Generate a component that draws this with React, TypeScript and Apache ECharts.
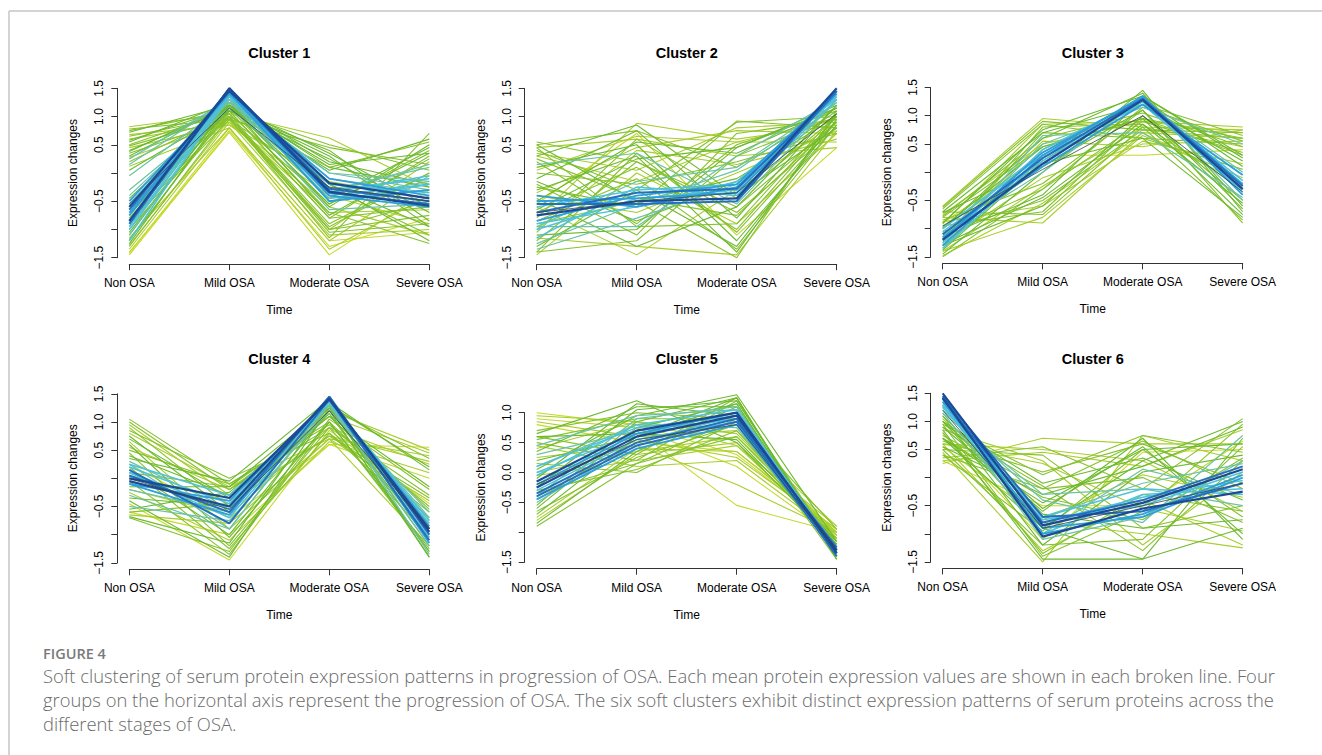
import React, { useEffect, useRef } from "react";
import * as echarts from "echarts";

// ---------------- DATA ----------------
const stages = ["Non OSA", "Mild OSA", "Moderate OSA", "Severe OSA"];
const clusterTitles = ["Cluster 1", "Cluster 2", "Cluster 3", "Cluster 4", "Cluster 5", "Cluster 6"];

// each row: [Non OSA, Mild OSA, Moderate OSA, Severe OSA, membership level 0..9]
const cluster1: number[][] = [
  [0.82, 1.05, 0.62, -0.25, 1], [0.78, 0.95, 0.45, 0.15, 2], [0.72, 1.2, 0.35, -0.6, 3],
  [0.65, 1.0, 0.1, 0.55, 2], [0.6, 0.9, -0.6, -1.1, 1], [0.55, 1.25, 0.2, -0.2, 3],
  [0.5, 1.1, -0.8, 0.3, 2], [0.45, 0.85, -0.4, -0.9, 1], [0.4, 1.15, 0.05, 0.6, 3],
  [0.35, 0.95, -1.0, -0.5, 2], [0.3, 1.2, -0.2, -1.2, 3], [0.2, 1.05, -0.55, 0.4, 2],
  [0.12, 0.8, -1.2, -0.05, 1], [0.05, 1.1, 0.25, -0.7, 3], [-0.05, 1.25, -0.35, 0.15, 4],
  [-1.45, 0.75, -1.3, -0.8, 0], [-1.4, 0.72, -1.45, -0.3, 0], [-1.35, 0.9, -1.1, -1.0, 1],
  [-1.3, 1.0, -0.9, 0.0, 2], [-1.2, 1.15, -0.7, -1.25, 2], [-1.15, 0.8, -1.35, -0.4, 1],
  [-1.1, 1.25, -0.6, 0.5, 3], [-1.0, 1.05, -1.0, -0.75, 2], [-0.95, 1.3, -0.45, -0.15, 4],
  [-0.9, 0.95, -0.25, -1.1, 2], [-0.8, 1.2, -0.75, 0.25, 3], [-0.7, 1.3, -0.65, -0.55, 4],
  [-0.65, 1.1, 0.4, -0.85, 3], [-0.6, 1.0, -1.15, 0.7, 2], [-0.4, 1.25, 0.0, -0.3, 4],
  [-0.3, 1.15, -0.3, 0.1, 4], [0.25, 1.3, -0.1, -0.35, 4], [-1.25, 1.2, -0.2, -0.95, 3],
  [0.75, 1.1, 0.5, 0.05, 2], [0.68, 0.85, -0.15, -0.45, 1], [0.58, 1.15, 0.3, -0.95, 3],
  [0.48, 0.98, -0.95, 0.0, 2], [0.38, 1.2, 0.15, 0.35, 3], [0.28, 0.9, -0.7, -0.65, 1],
  [0.15, 1.3, 0.0, -0.15, 4], [-1.42, 0.8, -1.2, -1.05, 0], [-1.28, 0.95, -1.0, 0.2, 1],
  [-1.18, 1.1, -0.8, -0.6, 2], [-1.05, 1.2, -0.55, 0.35, 3], [-0.85, 1.0, -1.05, -0.9, 2],
  [-0.75, 1.25, 0.1, -0.25, 3], [-0.45, 1.2, -0.45, 0.45, 3], [-1.1, 1.35, -0.45, -0.3, 4],
  [-1.0, 1.35, -0.35, -0.05, 5], [-0.85, 1.4, -0.5, -0.2, 5], [-0.55, 1.35, -0.2, -0.35, 5],
  [-0.95, 1.4, -0.3, -0.1, 5], [-1.2, 1.38, -0.4, -0.2, 5], [-0.7, 1.42, -0.5, -0.3, 6],
  [-0.75, 1.45, -0.4, -0.6, 6], [-0.5, 1.4, -0.1, -0.4, 6], [-0.9, 1.5, -0.28, -0.5, 7],
  [-0.65, 1.48, -0.35, -0.55, 7], [-0.85, 1.5, -0.33, -0.58, 8], [-0.6, 1.45, -0.18, -0.45, 8],
  [-0.55, 1.15, -0.25, -0.5, 9],
];

const cluster2: number[][] = [
  [0.55, 0.2, -0.6, 0.9, 2], [0.45, 0.6, 0.3, 0.45, 1], [0.4, -0.3, 0.9, 1.0, 2],
  [0.3, 0.85, -0.4, 0.8, 3], [0.2, -0.9, 0.5, 1.1, 2], [0.1, 0.5, -1.2, 0.85, 3],
  [0.0, -0.2, 0.2, 0.7, 2], [-0.1, 0.75, -0.8, 1.2, 3], [-0.2, -1.1, 0.7, 0.95, 2],
  [-0.3, 0.3, -1.4, 1.05, 3], [-0.4, -0.7, 0.0, 0.75, 1], [-0.5, 0.55, 0.35, 1.15, 3],
  [-0.6, -1.45, -0.3, 0.9, 1], [-0.7, 0.1, -1.0, 1.0, 2], [-0.8, 0.88, 0.6, 0.85, 1],
  [-0.9, -0.5, -1.5, 1.1, 2], [-1.0, 0.4, 0.15, 0.6, 1], [-1.1, -1.0, 0.45, 1.2, 3],
  [-1.2, 0.2, -0.7, 0.8, 2], [-1.3, -0.3, -1.3, 0.95, 3], [-1.4, -1.2, 0.3, 1.0, 2],
  [-1.45, 0.0, -0.9, 0.7, 1], [0.35, 0.05, 0.8, 0.9, 1], [-0.25, -0.6, 0.92, 0.8, 2],
  [0.5, -0.5, -0.1, 1.0, 3], [-0.55, 0.7, -1.1, 0.45, 0], [-1.35, -0.8, -0.2, 1.25, 4],
  [0.15, 0.35, -0.55, 1.3, 4], [-0.95, -0.15, 0.1, 1.3, 4], [-1.15, -1.3, -1.45, 0.75, 1],
  [0.45, -0.95, -0.9, 1.05, 2], [0.5, 0.75, 0.1, 1.15, 2], [0.25, -0.45, -0.75, 0.9, 2],
  [0.05, 0.65, 0.55, 0.95, 1], [-0.15, -0.85, -0.15, 1.1, 3], [-0.35, 0.45, 0.75, 0.7, 1],
  [-0.45, -1.3, -0.6, 1.2, 3], [-0.65, 0.25, 0.45, 1.15, 3], [-0.85, -0.1, -1.35, 0.85, 2],
  [-1.05, 0.6, -0.45, 1.0, 2], [-1.25, -0.55, 0.05, 1.25, 4], [-1.4, 0.35, -1.05, 0.9, 2],
  [-0.95, -0.95, 0.3, 1.3, 4], [0.3, -0.15, 0.55, 0.55, 1],
  [-1.15, -0.25, -0.4, 1.3, 5], [-0.9, -0.6, -0.15, 1.35, 5], [-0.6, -0.3, -0.2, 1.35, 5],
  [-1.0, -0.45, -0.3, 1.35, 5], [-0.4, -0.6, -0.25, 1.4, 6], [-0.5, -0.45, -0.35, 1.4, 6],
  [-0.85, -0.4, -0.2, 1.45, 6], [-0.7, -0.35, -0.28, 1.45, 7], [-0.55, -0.55, -0.5, 1.45, 7],
  [-0.75, -0.5, -0.45, 1.5, 8], [-0.7, -0.5, -0.35, 1.05, 9],
];

const cluster3: number[][] = [
  [-0.6, 0.95, 0.8, 0.75, 1], [-0.65, 0.85, 0.6, 0.5, 2], [-0.7, 0.7, 1.2, 0.2, 3],
  [-0.75, 0.5, 0.9, 0.8, 1], [-0.8, -0.9, 0.7, 0.6, 1], [-0.85, -0.2, 1.1, -0.9, 2],
  [-0.9, 0.3, 0.3, 0.4, 0], [-0.95, -0.7, 0.95, 0.3, 2], [-1.0, 0.6, 1.4, -0.6, 3],
  [-1.05, -0.5, 0.75, 0.7, 2], [-1.1, 0.15, 0.6, -0.8, 3], [-1.15, -0.4, 1.3, 0.1, 3],
  [-1.2, 0.8, 0.85, -0.3, 2], [-1.25, -0.1, 0.5, 0.55, 1], [-1.3, -0.6, 1.0, -0.5, 3],
  [-1.35, 0.4, 1.2, 0.65, 2], [-1.4, -0.8, 0.65, -0.1, 1], [-1.45, 0.0, 1.45, -0.7, 3],
  [-1.5, -0.3, 0.9, 0.35, 2], [-0.7, -0.75, 0.8, -0.85, 2], [-1.2, 0.55, 0.45, 0.75, 1],
  [-0.9, 0.75, 1.35, 0.25, 3], [-1.3, 0.65, 0.7, -0.45, 4], [-1.0, 0.35, 1.25, 0.0, 4],
  [-0.8, 0.45, 0.95, 0.6, 2], [-1.4, -0.25, 0.8, 0.45, 1], [-0.62, 0.9, 0.75, 0.6, 2],
  [-0.78, 0.6, 1.05, 0.45, 2], [-0.88, -0.6, 0.55, 0.15, 1], [-0.98, 0.45, 0.95, -0.75, 3],
  [-1.08, -0.3, 1.15, 0.55, 2], [-1.18, 0.7, 0.6, 0.05, 2], [-1.28, -0.45, 0.85, -0.55, 3],
  [-1.38, 0.2, 1.35, 0.3, 3], [-1.48, -0.55, 0.7, -0.2, 1], [-0.72, 0.1, 1.1, -0.65, 3],
  [-1.22, 0.5, 1.15, 0.5, 4], [-1.12, 0.0, 1.3, -0.5, 4], [-0.92, 0.85, 0.9, 0.7, 1],
  [-1.35, 0.25, 1.25, -0.15, 5], [-1.0, 0.3, 1.2, -0.3, 5], [-1.05, 0.2, 1.25, -0.2, 5],
  [-1.25, 0.4, 1.3, -0.35, 5], [-1.18, 0.35, 1.32, -0.22, 6], [-1.15, 0.1, 1.2, -0.05, 6],
  [-1.3, 0.3, 1.35, -0.4, 6], [-1.1, 0.25, 1.3, -0.25, 7], [-1.2, 0.15, 1.28, -0.3, 8],
  [-0.95, 0.05, 1.0, -0.35, 9],
];

const cluster4: number[][] = [
  [1.05, -0.1, 1.0, -1.3, 2], [0.95, -0.3, 1.2, 0.5, 1], [0.85, 0.0, 0.8, -0.6, 2],
  [0.75, -0.6, 1.3, 0.2, 3], [0.65, -0.9, 0.7, -1.2, 1], [0.55, -0.2, 1.1, 0.45, 1],
  [0.45, -1.2, 0.9, -0.3, 2], [0.35, -0.05, 1.4, -1.0, 3], [0.25, -0.7, 0.6, 0.0, 0],
  [0.15, -1.0, 1.2, -1.4, 3], [0.05, -0.4, 0.75, 0.3, 1], [-0.05, -1.35, 1.0, -0.7, 2],
  [-0.15, -0.15, 1.3, -0.9, 3], [-0.25, -1.1, 0.65, 0.1, 1], [-0.35, -0.5, 1.15, -1.3, 3],
  [-0.45, -1.45, 0.85, -0.45, 0], [-0.55, -0.25, 1.25, -1.1, 3], [-0.65, -0.8, 0.7, 0.4, 1],
  [-0.7, -1.3, 1.05, -0.2, 2], [0.5, -0.1, 0.95, -0.5, 2], [-0.3, -0.9, 1.35, -1.35, 4],
  [0.3, -0.55, 1.3, -0.75, 4], [-0.5, -0.75, 1.2, -0.6, 4], [0.7, -0.35, 1.1, -0.15, 3],
  [-0.6, -1.0, 0.6, 0.55, 0], [1.0, -0.2, 0.9, -1.05, 2], [0.9, -0.5, 1.25, 0.35, 2],
  [0.8, -0.15, 0.7, -0.4, 1], [0.6, -1.05, 1.0, -1.25, 3], [0.4, -0.3, 1.35, 0.15, 3],
  [0.2, -1.25, 0.8, -0.8, 2], [0.1, -0.15, 1.1, -0.55, 2], [-0.2, -0.65, 0.9, 0.25, 1],
  [-0.4, -1.4, 1.25, -1.2, 3], [-0.6, -0.45, 0.75, -0.35, 2], [-0.68, -1.15, 1.3, -1.4, 3],
  [0.25, -0.9, 1.3, -1.2, 4], [-0.2, -0.6, 1.35, -0.7, 4],
  [0.1, -0.55, 1.38, -0.95, 5], [0.25, -0.3, 1.35, -0.75, 5], [0.2, -0.45, 1.35, -0.8, 5],
  [0.1, -0.7, 1.35, -1.05, 5], [-0.1, -0.65, 1.45, -1.15, 6], [-0.1, -0.4, 1.4, -0.85, 6],
  [0.05, -0.6, 1.45, -1.0, 7], [0.15, -0.8, 1.4, -1.1, 7], [-0.05, -0.5, 1.42, -0.95, 8],
  [0.0, -0.35, 1.4, -0.9, 8], [0.0, -0.55, 1.2, -0.9, 9],
];

const cluster5: number[][] = [
  [1.0, 0.8, 0.3, -1.0, 0], [0.9, 0.75, 0.1, -1.1, 0], [0.85, 0.6, 0.7, -0.9, 1],
  [0.65, 1.2, 0.5, -1.2, 3], [0.6, 0.3, 1.25, -1.4, 2], [0.55, 0.9, 0.9, -0.95, 2],
  [0.45, 0.1, 0.2, -1.05, 1], [0.35, 1.1, 1.1, -1.3, 3], [0.25, 0.45, -0.2, -1.0, 1],
  [0.15, 0.0, 0.85, -1.45, 2], [0.05, 0.95, 1.3, -1.15, 3], [-0.05, 0.2, 0.45, -0.9, 1],
  [-0.15, 0.7, -0.55, -1.0, 0], [-0.25, 1.05, 1.2, -1.35, 3], [-0.35, 0.15, 0.6, -1.1, 2],
  [-0.45, 0.55, 0.25, -0.95, 1], [-0.55, 0.85, 1.25, -1.45, 3], [-0.65, 0.25, 0.8, -1.2, 2],
  [-0.75, 0.4, 0.35, -1.0, 1], [-0.85, 0.35, 1.1, -1.3, 3], [-0.9, 0.15, 0.9, -1.25, 2],
  [0.45, 0.95, 1.05, -1.35, 4], [-0.5, 0.5, 0.95, -1.3, 4], [0.1, 0.8, 0.75, -1.25, 4],
  [0.6, 0.65, 0.55, -1.15, 3], [-0.7, 0.6, 1.15, -1.4, 3], [0.95, 0.85, 0.65, -1.05, 1],
  [0.8, 0.5, 0.35, -0.95, 0], [0.7, 1.0, 0.9, -1.2, 2], [0.5, 0.2, 1.2, -1.3, 2],
  [0.4, 0.85, 0.45, -1.1, 1], [0.2, 0.6, 1.25, -1.45, 3], [0.0, 0.35, 0.6, -1.0, 1],
  [-0.1, 1.15, 0.95, -1.3, 3], [-0.3, 0.05, 0.7, -1.15, 2], [-0.6, 0.75, 1.15, -1.4, 3],
  [-0.8, 0.3, 0.5, -1.05, 1], [-0.4, 0.9, 1.1, -1.35, 4], [0.3, 0.7, 0.9, -1.25, 4],
  [-0.05, 0.8, 1.05, -1.3, 5], [0.0, 0.65, 0.9, -1.28, 5], [0.1, 0.75, 0.95, -1.25, 5],
  [-0.3, 0.55, 0.85, -1.3, 5], [-0.45, 0.4, 0.8, -1.35, 6], [-0.2, 0.65, 1.0, -1.35, 6],
  [-0.35, 0.5, 0.9, -1.4, 7], [-0.4, 0.45, 0.85, -1.25, 7], [-0.25, 0.6, 0.95, -1.3, 8],
  [-0.15, 0.7, 1.0, -1.35, 8], [-0.2, 0.55, 0.8, -1.3, 9],
];

const cluster6: number[][] = [
  [0.25, 0.7, 0.6, 0.6, 1], [0.35, 0.55, -0.2, 1.05, 2], [0.45, -1.5, 0.75, 0.3, 1],
  [0.5, 0.4, -0.9, -0.5, 2], [0.55, -0.3, 0.2, 0.9, 3], [0.6, -1.3, -0.4, -1.2, 1],
  [0.65, 0.1, 0.6, -0.1, 2], [0.7, -0.9, -1.45, 0.7, 3], [0.75, -0.2, 0.0, -0.8, 2],
  [0.8, -1.1, 0.45, 0.5, 0], [0.85, 0.3, -1.2, 0.1, 1], [0.9, -0.6, 0.7, -1.1, 3],
  [0.95, -1.4, -0.6, 0.95, 2], [1.0, -0.1, 0.35, -0.4, 3], [1.05, -0.8, -1.0, -1.25, 1],
  [1.1, -1.2, 0.1, 0.4, 3], [0.3, -0.5, -0.5, 0.65, 0], [0.4, -0.95, 0.5, -0.7, 2],
  [1.2, -0.4, -0.8, 0.75, 4], [1.15, -1.0, 0.15, -0.3, 4], [0.6, 0.5, 0.3, -0.6, 1],
  [0.85, -1.45, -1.45, -0.9, 3], [1.25, -0.7, -0.1, 0.25, 4], [0.7, -0.35, -0.75, 0.35, 2],
  [1.0, -0.55, 0.55, -1.0, 3], [0.3, 0.45, 0.2, 0.85, 1], [0.4, -0.2, 0.65, -0.2, 2],
  [0.5, -1.2, -1.1, 0.55, 2], [0.6, 0.25, -0.55, -0.95, 1], [0.7, -0.45, 0.5, 0.6, 3],
  [0.8, -1.35, -0.3, -0.6, 2], [0.9, -0.15, -1.3, 0.3, 2], [1.0, -0.9, 0.3, 1.0, 3],
  [1.1, -0.65, -0.9, -0.75, 3], [0.55, -0.75, 0.05, -0.35, 1], [0.95, 0.05, 0.75, 0.45, 2],
  [1.15, -0.3, -0.2, -0.5, 4], [1.3, -1.1, -0.7, 0.3, 4],
  [1.35, -0.8, -0.35, -0.05, 5], [1.28, -0.7, -0.2, -0.3, 5], [1.25, -0.75, -0.5, 0.1, 5],
  [1.3, -1.0, -0.3, -0.2, 5], [1.45, -1.0, -0.65, 0.05, 6], [1.35, -0.9, -0.7, 0.0, 6],
  [1.4, -0.8, -0.4, 0.2, 7], [1.45, -0.7, -0.6, -0.1, 7], [1.5, -0.85, -0.45, 0.15, 8],
  [1.42, -1.05, -0.55, -0.25, 8], [1.2, -0.9, -0.5, -0.1, 9],
];

const clusters = [cluster1, cluster2, cluster3, cluster4, cluster5, cluster6];

// y axis ranges and tick labels R drew (others omitted due to overlap)
const yMin = [-1.5, -1.5, -1.5, -1.5, -1.5, -1.5];
const yMax = [1.5, 1.5, 1.5, 1.5, 1.0, 1.5];
const hiddenTickLabels = [[0, -1], [0, -1], [0, -1], [0, -1], [-1], [0, -1]];

const figureLabel = "FIGURE 4";
const captionLines = [
  "Soft clustering of serum protein expression patterns in progression of OSA. Each mean protein expression values are shown in each broken line. Four",
  "groups on the horizontal axis represent the progression of OSA. The six soft clusters exhibit distinct expression patterns of serum proteins across the",
  "different stages of OSA.",
];

// ---------------- STYLE ----------------
const memberColors = ["#C5D92C", "#A8CE2E", "#86C22D", "#6DB92E", "#6CC2A6", "#4EC1DB", "#2E9FDB", "#2470BF", "#1B4B94", "#33454D"];
const memberWidths = [1.1, 1.1, 1.1, 1.1, 1.2, 1.5, 1.8, 2, 2.2, 0.8];

const colLeft = [129.3, 536.7, 942.7];
const gridRects = [
  { top: 88.3, height: 169.4 },
  { top: 88.3, height: 169.4 },
  { top: 87.5, height: 169.4 },
  { top: 393.8, height: 169 },
  { top: 412.7, height: 149.5 },
  { top: 393.3, height: 168.6 },
];
const titleY = [53, 359];
const axisFont = "Liberation Sans, Arial, Helvetica, sans-serif";
const captionFont = "Open Sans, Lato, sans-serif";

function fmt(v: number) {
  const s = Math.abs(v).toFixed(1);
  return v < 0 ? "\u2212" + s : s;
}

export default function App() {
  const ref = useRef<HTMLDivElement>(null);

  useEffect(() => {
    if (!ref.current) return;
    const chart = echarts.init(ref.current, undefined, { renderer: "svg" });

    const grids: any[] = [];
    const xAxes: any[] = [];
    const yAxes: any[] = [];
    const series: any[] = [];
    const graphics: any[] = [];

    clusters.forEach((lines, k) => {
      const col = k % 3;
      const row = Math.floor(k / 3);
      grids.push({
        left: colLeft[col],
        top: gridRects[k].top,
        width: 300,
        height: gridRects[k].height,
        containLabel: false,
      });
      xAxes.push({
        type: "category",
        gridIndex: k,
        data: stages,
        boundaryGap: false,
        offset: 6.5,
        axisLine: { show: true, onZero: false, lineStyle: { color: "#333", width: 1 } },
        axisTick: { show: true, length: 6, interval: 0, lineStyle: { color: "#333" } },
        axisLabel: { interval: 0, margin: 13, color: "#000", fontSize: 12, fontFamily: axisFont },
        splitLine: { show: false },
        name: "Time",
        nameLocation: "middle",
        nameGap: 40,
        nameTextStyle: { color: "#000", fontSize: 12, fontFamily: axisFont },
      });
      const hidden = hiddenTickLabels[k];
      yAxes.push({
        type: "value",
        gridIndex: k,
        min: yMin[k],
        max: yMax[k],
        interval: 0.5,
        offset: 12,
        axisLine: { show: true, onZero: false, lineStyle: { color: "#333", width: 1 } },
        axisTick: { show: true, length: 6, lineStyle: { color: "#333" } },
        splitLine: { show: false },
        axisLabel: {
          rotate: 90,
          margin: 12,
          color: "#000",
          fontSize: 12,
          fontFamily: axisFont,
          showMinLabel: true,
          showMaxLabel: true,
          formatter: (v: number) => (hidden.some((h) => Math.abs(h - v) < 1e-6) ? "" : fmt(v)),
        },
        name: "Expression changes",
        nameLocation: "middle",
        nameGap: 38,
        nameRotate: 90,
        nameTextStyle: { color: "#000", fontSize: 12, fontFamily: axisFont },
      });

      const sorted = [...lines].sort((a, b) => {
        const ma = a[4] === 9 ? 8.5 : a[4];
        const mb = b[4] === 9 ? 8.5 : b[4];
        return ma - mb;
      });
      sorted.forEach((ln) => {
        const m = ln[4];
        series.push({
          type: "line",
          xAxisIndex: k,
          yAxisIndex: k,
          data: ln.slice(0, 4),
          showSymbol: false,
          symbol: "none",
          clip: false,
          silent: true,
          lineStyle: { color: memberColors[m], width: memberWidths[m] },
          z: 2,
        });
      });

      graphics.push({
        type: "text",
        x: colLeft[col] + 150,
        y: titleY[row],
        style: {
          text: clusterTitles[k],
          fill: "#000",
          fontSize: 14.5,
          fontWeight: "bold",
          fontFamily: axisFont,
          align: "center",
          verticalAlign: "middle",
        },
      });
    });

    // frame lines
    graphics.push({
      type: "line",
      shape: { x1: 9, y1: 11, x2: 1322, y2: 11 },
      style: { stroke: "#c6c6c6", lineWidth: 1.5 },
    });
    graphics.push({
      type: "line",
      shape: { x1: 9, y1: 11, x2: 9, y2: 755 },
      style: { stroke: "#c6c6c6", lineWidth: 1.5 },
    });
    graphics.push({
      type: "text",
      x: 43,
      y: 653,
      style: {
        text: figureLabel,
        fill: "#7a7a7a",
        fontSize: 14.5,
        fontWeight: 600,
        fontFamily: captionFont,
        verticalAlign: "middle",
      },
    });
    captionLines.forEach((t, i) => {
      graphics.push({
        type: "text",
        x: 43,
        y: 675 + i * 24,
        style: {
          text: t,
          fill: "#6a6a6a",
          fontSize: 18.4,
          fontWeight: 300,
          fontFamily: captionFont,
          verticalAlign: "middle",
        },
      });
    });

    chart.setOption({
      animation: false,
      backgroundColor: "#ffffff",
      grid: grids,
      xAxis: xAxes,
      yAxis: yAxes,
      series,
      graphic: graphics,
    });

    return () => chart.dispose();
  }, []);

  return (
    <div
      ref={ref}
      style={{ position: "absolute", left: 0, top: 0, width: 1322, height: 755, background: "#fff" }}
    />
  );
}
